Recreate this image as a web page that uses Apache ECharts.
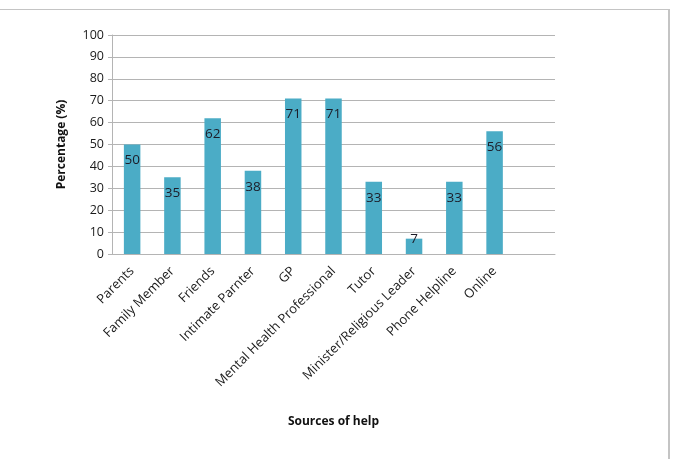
<!DOCTYPE html>
<html>
<head>
<meta charset="utf-8">
<script src="https://cdn.jsdelivr.net/npm/echarts@6/dist/echarts.min.js"></script>
<style>
  html, body { margin: 0; padding: 0; background: #fff; }
  #wrap { position: relative; width: 678px; height: 459px; overflow: hidden; }
  #frame { position: absolute; left: -10px; top: 9px; width: 680px; height: 470px;
           border-top: 1px solid #c4c4c4; border-right: 2px solid #c4c4c4; box-sizing: border-box; }
  #chart { position: absolute; left: 0; top: 0; width: 678px; height: 459px; }
</style>
</head>
<body>
<div id="wrap">
  <div id="frame"></div>
  <div id="chart"></div>
</div>
<script>
// Fuentes de ayuda (la última categoría está vacía, como en el original)
var categorias = ["Parents", "Family Member", "Friends", "Intimate Parnter", "GP",
  "Mental Health Professional", "Tutor", "Minister/Religious Leader", "Phone Helpline", "Online", ""];
var porcentajes = [50, 35, 62, 38, 71, 71, 33, 7, 33, 56, null];
var ticksY = [0, 10, 20, 30, 40, 50, 60, 70, 80, 90, 100];

var fuente = "Open Sans";

//Etiquetas: si la barra es muy corta la etiqueta sube
var datosBarras = porcentajes.map(function (v) {
  if (v !== null && v < 10) {
    return { value: v, label: { position: "top", distance: -7 } };
  }
  return v;
});

var option = {
  animation: false,
  textStyle: { fontFamily: fuente },
  grid: { left: 112, right: 123, top: 35, bottom: 205 },
  xAxis: {
    type: "category",
    data: categorias,
    name: "Sources of help",
    nameLocation: "middle",
    nameGap: 162,
    nameTextStyle: { fontFamily: fuente, fontWeight: "bold", fontSize: 12, color: "#111" },
    axisLine: { lineStyle: { color: "#b4b4b4", width: 1 } },
    axisTick: { show: false },
    axisLabel: {
      rotate: 45,
      interval: 0,
      margin: 15,
      fontFamily: fuente,
      fontSize: 13,
      color: "#1a1a1a",
    },
  },
  yAxis: {
    type: "value",
    min: ticksY[0],
    max: ticksY[ticksY.length - 1],
    interval: 10,
    name: "Percentage (%)",
    nameLocation: "middle",
    nameGap: 44,
    nameTextStyle: { fontFamily: fuente, fontWeight: "bold", fontSize: 12, color: "#111" },
    axisLine: { show: true, lineStyle: { color: "#b4b4b4", width: 1 } },
    axisTick: { show: true, length: 4, lineStyle: { color: "#b4b4b4" } },
    splitLine: { show: true, lineStyle: { color: "#b4b4b4", width: 1 } },
    axisLabel: { margin: 8, fontFamily: fuente, fontSize: 12.5, color: "#1a1a1a" },
  },
  series: [
    {
      type: "bar",
      data: datosBarras,
      barWidth: 16.5,
      itemStyle: { color: "#4bacc6" },
      label: {
        show: true,
        position: "insideTop",
        distance: 9,
        fontFamily: fuente,
        fontSize: 13.5,
        color: "#1c1c28",
      },
    },
  ],
};

var chartDom = document.getElementById("chart");
var myChart = echarts.init(chartDom);
myChart.setOption(option);
</script>
</body>
</html>
